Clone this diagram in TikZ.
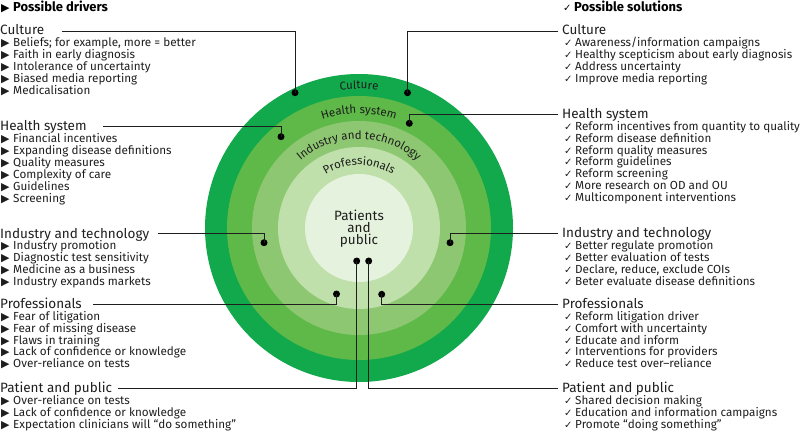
\documentclass[tikz,border=0pt]{standalone}
\usepackage{fontspec}
\setmainfont{Fira Sans}
\newfontfamily\sym{DejaVu Sans}
\usetikzlibrary{decorations.text}

\definecolor{cult}{RGB}{18,168,76}
\definecolor{hlth}{RGB}{94,185,72}
\definecolor{inds}{RGB}{142,199,114}
\definecolor{prof}{RGB}{191,224,171}
\definecolor{pat}{RGB}{229,242,222}
\definecolor{ink}{RGB}{30,30,30}

\newcommand{\tri}{\makebox[12pt][l]{\sym\fontsize{11}{11}\selectfont ▶}}
\newcommand{\chk}{\makebox[11pt][l]{\sym\fontsize{10}{10}\selectfont ✓}}
\newcommand{\ringfnt}{\fontsize{11.5}{12}\selectfont}

\begin{document}
\begin{tikzpicture}[x=1pt,y=-1pt,
  hdr/.style={anchor=base west, inner sep=0, text=ink, font=\fontsize{13.5}{14}\selectfont},
  itm/.style={anchor=base west, inner sep=0, text=ink, font=\fontsize{11.7}{12}\selectfont},
  ttl/.style={anchor=base west, inner sep=0, text=black, font=\fontsize{13}{13}\selectfont\bfseries},
  conn/.style={draw=ink, line width=0.8pt},
  pin/.style={circle, fill=black, inner sep=0, minimum size=7pt},
  ctr/.style={align=center, inner sep=0, text=ink, font=\fontsize{13.5}{12}\selectfont}]
\useasboundingbox (0,0) rectangle (800,444);

% rings
\fill[cult] (359,228) circle[radius=154];
\fill[hlth] (359,228) circle[radius=132];
\fill[inds] (359,228) circle[radius=107];
\fill[prof] (359,228) circle[radius=81];
\fill[pat]  (359,228) circle[radius=54];

% ring labels
\path[decorate, decoration={text along path, text align=center, text color=ink,
  text={|\ringfnt|Culture}}] (359,228) ++(200:139) arc[start angle=200, end angle=340, radius=139];
\path[decorate, decoration={text along path, text align=center, text color=ink,
  text={|\ringfnt|Health system}}] (359,228) ++(190:114.5) arc[start angle=190, end angle=350, radius=114.5];
\path[decorate, decoration={text along path, text align=center, text color=ink,
  text={|\ringfnt|Industry and technology}}] (359,228) ++(180:89) arc[start angle=180, end angle=360, radius=89];
\path[decorate, decoration={text along path, text align=center, text color=ink,
  text={|\ringfnt|Professionals}}] (359,228) ++(180:63) arc[start angle=180, end angle=360, radius=63];

\node[ctr] (core) at (359,229) {Patients\\and\\public};

% titles
\node[ttl] (tdrv) at (1,12) {\tri Possible drivers};
\node[ttl] (tsol) at (563,12) {\chk Possible solutions};

% left headers
\node[hdr] (lh1) at (0,35) {Culture};
\node[hdr] (lh2) at (0,130) {Health system};
\node[hdr] (lh3) at (0,238) {Industry and technology};
\node[hdr] (lh4) at (0,308.3) {Professionals};
\node[hdr] (lh5) at (0,392.3) {Patient and public};

% left items
\foreach \t [count=\i] in {{Beliefs; for example, more = better},{Faith in early diagnosis},{Intolerance of uncertainty},{Biased media reporting},{Medicalisation}}
  \node[itm] (la\i) at (1,{46.5+12*(\i-1)}) {\tri\t};
\foreach \t [count=\i] in {{Financial incentives},{Expanding disease definitions},{Quality measures},{Complexity of care},{Guidelines},{Screening}}
  \node[itm] (lb\i) at (1,{142+12*(\i-1)}) {\tri\t};
\foreach \t [count=\i] in {{Industry promotion},{Diagnostic test sensitivity},{Medicine as a business},{Industry expands markets}}
  \node[itm] (lc\i) at (1,{249+12*(\i-1)}) {\tri\t};
\foreach \t [count=\i] in {{Fear of litigation},{Fear of missing disease},{Flaws in training},{Lack of confidence or knowledge},{Over-reliance on tests}}
  \node[itm] (ld\i) at (1,{320.5+11.8*(\i-1)}) {\tri\t};
\foreach \t [count=\i] in {{Over-reliance on tests},{Lack of confidence or knowledge},{Expectation clinicians will “do something”}}
  \node[itm] (le\i) at (1,{404+12*(\i-1)}) {\tri\t};

% right headers
\node[hdr] (rh1) at (562,35) {Culture};
\node[hdr] (rh2) at (562,118.3) {Health system};
\node[hdr] (rh3) at (562,237.3) {Industry and technology};
\node[hdr] (rh4) at (562,308.3) {Professionals};
\node[hdr] (rh5) at (562,392.3) {Patient and public};

% right items
\foreach \t [count=\i] in {{Awareness/information campaigns},{Healthy scepticism about early diagnosis},{Address uncertainty},{Improve media reporting}}
  \node[itm] (ra\i) at (564,{46.5+12*(\i-1)}) {\chk\t};
\foreach \t [count=\i] in {{Reform incentives from quantity to quality},{Reform disease definition},{Reform quality measures},{Reform guidelines},{Reform screening},{More research on OD and OU},{Multicomponent interventions}}
  \node[itm] (rb\i) at (564,{130.5+11.8*(\i-1)}) {\chk\t};
\foreach \t [count=\i] in {{Better regulate promotion},{Better evaluation of tests},{Declare, reduce, exclude COIs},{Beter evaluate disease definitions}}
  \node[itm] (rc\i) at (564,{249.5+11.9*(\i-1)}) {\chk\t};
\foreach \t [count=\i] in {{Reform litigation driver},{Comfort with uncertainty},{Educate and inform},{Interventions for providers},{Reduce test over–reliance}}
  \node[itm] (rd\i) at (564,{320.5+11.8*(\i-1)}) {\chk\t};
\foreach \t [count=\i] in {{Shared decision making},{Education and information campaigns},{Promote “doing something”}}
  \node[itm] (re\i) at (564,{404+12*(\i-1)}) {\chk\t};

% pins
\node[pin] (pl1) at (295,92.7) {};
\node[pin] (pl2) at (281,136.7) {};
\node[pin] (pl3) at (264,242.7) {};
\node[pin] (pl4) at (336.5,294) {};
\node[pin] (pl5) at (356.7,261) {};
\node[pin] (pr1) at (407.5,92.7) {};
\node[pin] (pr2) at (409.3,123.3) {};
\node[pin] (pr3) at (450,242.7) {};
\node[pin] (pr4) at (381.7,294.3) {};
\node[pin] (pr5) at (368.7,261) {};

% connector start points
\coordinate (sl1) at (62,31);
\coordinate (sl2) at (103,126.5);
\coordinate (sl3) at (158,233);
\coordinate (sl4) at (93,304);
\coordinate (sl5) at (118,388);
\coordinate (sr1) at (558,31);
\coordinate (sr2) at (558,114);
\coordinate (sr3) at (558,233);
\coordinate (sr4) at (558,304);
\coordinate (sr5) at (558,388);

\foreach \k in {1,...,5} {
  \draw[conn] (sl\k) -| (pl\k.center);
  \draw[conn] (sr\k) -| (pr\k.center);
}
\end{tikzpicture}
\end{document}
